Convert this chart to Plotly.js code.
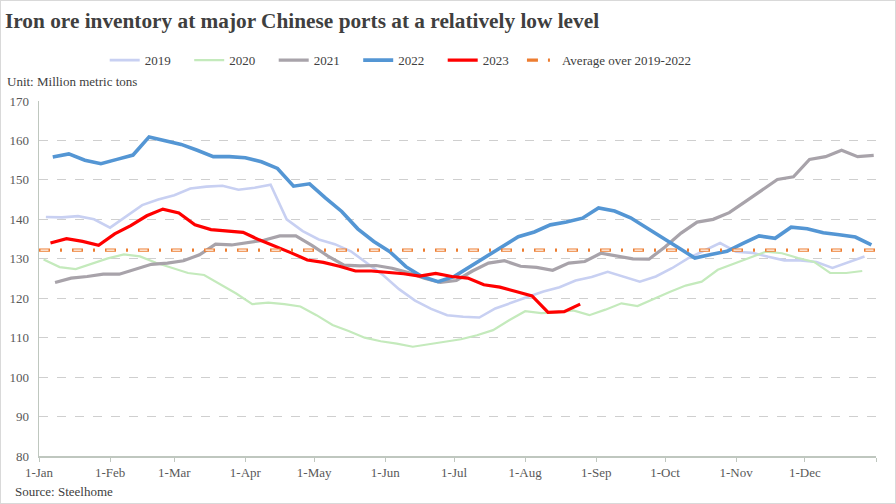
<!DOCTYPE html>
<html>
<head>
<meta charset="utf-8">
<script src="https://cdn.plot.ly/plotly-3.0.1.min.js"></script>
<style>
  html, body { margin: 0; padding: 0; background: #fff; }
  #wrap { position: relative; width: 896px; height: 504px; }
  #chart { width: 896px; height: 504px; }
  #frame { position: absolute; left: 0; top: 0; width: 896px; height: 504px; box-sizing: border-box; border: 1px solid #d9d9d9; pointer-events: none; }
</style>
</head>
<body>
<div id="wrap"><div id="chart"></div><div id="frame"></div></div>
<script>
// ---- Data (weekly port inventory, million metric tons) ----
const seriesNames = ['2019', '2020', '2021', '2022', '2023'];
// first weekly observation of each year, placed on a common calendar year
const seriesStart = ['2023-01-04', '2023-01-03', '2023-01-08', '2023-01-07', '2023-01-06'];

const v2019 = [140.6, 140.5, 140.8, 140.0, 137.9, 140.8, 143.6, 145.0, 146.1, 147.8,
               148.3, 148.5, 147.5, 148.0, 148.8, 140.0, 137.0, 134.9, 133.7, 131.9,
               129.0, 125.9, 122.3, 119.4, 117.3, 115.7, 115.3, 115.1, 117.4, 118.9,
               120.3, 121.7, 122.8, 124.5, 125.4, 126.7, 125.5, 124.2, 125.5, 127.6,
               130.1, 132.0, 134.0, 131.8, 131.5, 130.5, 129.6, 129.6, 129.2, 127.7,
               129.1, 130.6];
const v2020 = [129.8, 127.9, 127.4, 128.8, 130.1, 131.1, 130.6, 129.0, 127.7, 126.4,
               125.9, 123.6, 121.2, 118.5, 118.9, 118.5, 117.9, 115.7, 113.2, 111.7,
               110.0, 109.1, 108.5, 107.7, 108.3, 108.9, 109.6, 110.6, 111.9, 114.4,
               116.7, 116.2, 116.4, 116.9, 115.7, 117.1, 118.7, 118.0, 119.9, 121.6,
               123.2, 124.2, 127.2, 128.8, 130.2, 131.8, 131.4, 130.2, 129.2, 126.4,
               126.4, 126.9];
const v2021 = [124.0, 125.1, 125.5, 126.1, 126.1, 127.4, 128.6, 128.9, 129.5, 131.0,
               133.7, 133.5, 134.2, 134.7, 135.8, 135.8, 133.4, 130.7, 128.4, 128.2,
               128.3, 127.6, 126.5, 125.1, 124.0, 124.5, 126.9, 128.9, 129.5, 128.1,
               127.8, 127.1, 128.9, 129.3, 131.4, 130.6, 130.0, 129.9, 133.0, 136.5,
               139.3, 140.0, 141.7, 144.5, 147.3, 150.1, 150.8, 155.2, 155.9, 157.5,
               155.9, 156.2];
const v2022 = [155.8, 156.6, 155.0, 154.1, 155.2, 156.3, 160.9, 160.0, 159.0, 157.5,
               155.9, 155.9, 155.6, 154.6, 152.9, 148.4, 149.0, 145.4, 142.0, 137.6,
               134.4, 131.8, 128.0, 125.5, 124.2, 125.5, 128.0, 130.6, 132.9, 135.6,
               136.8, 138.6, 139.3, 140.3, 142.9, 142.1, 140.4, 137.9, 135.2, 132.8,
               130.2, 131.1, 131.9, 133.9, 135.8, 135.2, 138.0, 137.6, 136.6, 136.1,
               135.5, 133.5];
const v2023 = [134.0, 135.1, 134.4, 133.4, 136.3, 138.4, 140.9, 142.6, 141.6, 138.6,
               137.4, 137.0, 136.7, 134.8, 133.2, 131.5, 129.7, 129.1, 128.1, 126.9,
               126.9, 126.6, 126.2, 125.6, 126.3, 125.5, 125.1, 123.4, 122.8, 121.7,
               120.6, 116.4, 116.6, 118.5];
const averageName = 'Average over 2019-2022';
const averageValue = 132.2;

const monthTicks = ['2023-01-01', '2023-02-01', '2023-03-01', '2023-04-01', '2023-05-01', '2023-06-01',
                    '2023-07-01', '2023-08-01', '2023-09-01', '2023-10-01', '2023-11-01', '2023-12-01',
                    '2024-01-01'];
const monthLabels = ['1-Jan', '1-Feb', '1-Mar', '1-Apr', '1-May', '1-Jun',
                     '1-Jul', '1-Aug', '1-Sep', '1-Oct', '1-Nov', '1-Dec', ''];
const yTicks = [80, 90, 100, 110, 120, 130, 140, 150, 160, 170];

// ---- Styles ----
const WEEK = 7 * 86400000;
const serif = 'Liberation Serif, Times New Roman, serif';
const styles = [
  {color: 'rgb(200,208,242)', width: 2.6},
  {color: 'rgb(196,234,188)', width: 2.2},
  {color: 'rgb(168,163,170)', width: 3.2},
  {color: 'rgb(84,150,212)', width: 3.6},
  {color: 'rgb(255,0,0)', width: 3.2}
];
const values = [v2019, v2020, v2021, v2022, v2023];

const traces = seriesNames.map((name, i) => ({
  type: 'scatter', mode: 'lines', name: name, legend: 'legend',
  x0: seriesStart[i], dx: WEEK, y: values[i],
  line: {color: styles[i].color, width: styles[i].width},
  hoverinfo: 'skip'
}));

traces.push({
  type: 'scatter', mode: 'lines', name: averageName, legend: 'legend2',
  x: [monthTicks[0], monthTicks[monthTicks.length - 1]], y: [averageValue, averageValue],
  line: {color: 'rgb(237,125,49)', width: 3.4, dash: '11px,10px,2px,10px'},
  hoverinfo: 'skip'
});
traces.push({
  type: 'scatter', mode: 'lines', name: averageName, showlegend: false, legend: 'legend2',
  x: [monthTicks[0], monthTicks[monthTicks.length - 1]], y: [averageValue, averageValue],
  line: {color: '#ffffff', width: 1.2, dash: '0px,1.5px,8px,23.5px'},
  hoverinfo: 'skip'
});

const legendFont = {family: serif, size: 13, color: '#404040'};
const layout = {
  width: 896, height: 504,
  margin: {l: 39, r: 20, t: 101, b: 48, pad: 0},
  paper_bgcolor: '#ffffff', plot_bgcolor: '#ffffff',
  font: {family: serif, size: 13, color: '#595959'},
  title: {
    text: 'Iron ore inventory at major Chinese ports at a relatively low level',
    font: {family: serif, size: 21.3, color: '#3f3f3f', weight: 'bold'},
    xref: 'container', x: 5 / 896, xanchor: 'left',
    yref: 'container', y: 1 - 21 / 504, yanchor: 'middle'
  },
  showlegend: true,
  legend: {
    orientation: 'h', x: 0.0785, xanchor: 'left', y: 1.115, yanchor: 'middle',
    font: legendFont,
    entrywidth: 39.5, entrywidthmode: 'pixels', itemwidth: 30,
    bgcolor: 'rgba(0,0,0,0)', traceorder: 'normal'
  },
  legend2: {
    orientation: 'h', x: 0.577, xanchor: 'left', y: 1.115, yanchor: 'middle',
    font: legendFont, itemwidth: 30,
    bgcolor: 'rgba(0,0,0,0)'
  },
  xaxis: {
    type: 'date', range: [monthTicks[0], monthTicks[monthTicks.length - 1]],
    tickmode: 'array', tickvals: monthTicks, ticktext: monthLabels,
    ticks: 'outside', ticklen: 4, tickcolor: '#bfc7bf', tickwidth: 1,
    showline: true, linecolor: '#bfc7bf', linewidth: 1.5,
    showgrid: false, zeroline: false,
    tickfont: {family: serif, size: 13, color: '#595959'},
    fixedrange: true
  },
  yaxis: {
    range: [80, 170], tickmode: 'array', tickvals: yTicks,
    ticks: '', ticklabelstandoff: 6,
    showline: true, linecolor: '#bfc7bf', linewidth: 1.5,
    showgrid: true, gridcolor: '#cfcfcf', gridwidth: 1, griddash: 'dash',
    zeroline: false,
    tickfont: {family: serif, size: 13, color: '#595959'},
    fixedrange: true
  },
  annotations: [
    {text: 'Unit: Million metric tons', xref: 'paper', yref: 'paper',
     x: (5 - 39) / 837, y: 1 + (101 - 81) / 355, xanchor: 'left', yanchor: 'middle',
     showarrow: false, font: {family: serif, size: 13, color: '#404040'}},
    {text: 'Source: Steelhome', xref: 'paper', yref: 'paper',
     x: (13 - 39) / 837, y: -(491 - 456) / 355, xanchor: 'left', yanchor: 'middle',
     showarrow: false, font: {family: serif, size: 13, color: '#404040'}}
  ]
};

Plotly.newPlot('chart', traces, layout, {staticPlot: true, displayModeBar: false});
</script>
</body>
</html>
